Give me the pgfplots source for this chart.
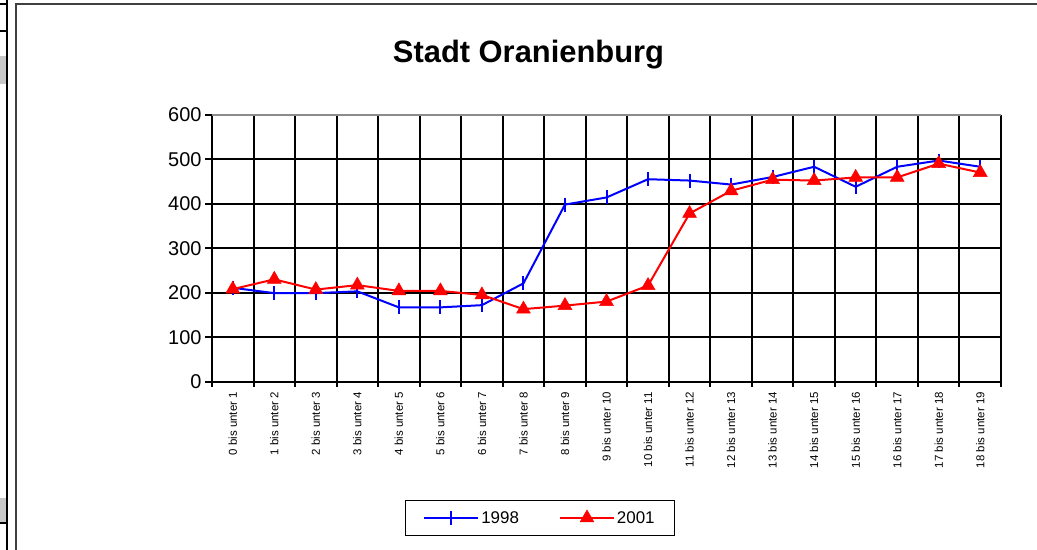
\documentclass[border=0pt]{standalone}
\usepackage{fontspec}
\setmainfont{Liberation Sans}
\usepackage{pgfplots}
\pgfplotsset{compat=1.18}
\begin{document}
\begin{tikzpicture}[x=1bp,y=1bp]
\path[use as bounding box] (0,0) rectangle (1037,550);
% page decorations
\draw[line width=2bp, black!75] (16,0) -- (16,546) -- (1037,546);
\draw[line width=2.5bp] (7,0) -- (7,550);
\draw[line width=2bp] (0,546) -- (7,546);
\draw[line width=2bp] (0,519) -- (7,519);
\fill[black!22] (0,466) rectangle (6,494);
\fill[black!22] (0,27) rectangle (6,52);
\draw[line width=2bp] (0,27) -- (7,27);
\node[anchor=base, font=\fontsize{31}{36}\selectfont\bfseries] at (528.5,487) {Stadt Oranienburg};
\begin{axis}[
  at={(212bp,168.3bp)}, anchor=south west,
  scale only axis, width=789bp, height=267bp,
  xmin=-0.5, xmax=18.5, ymin=0, ymax=600,
  ytick={0,100,200,300,400,500,600},
  xtick={0,1,2,3,4,5,6,7,8,9,10,11,12,13,14,15,16,17,18},
  xticklabels={0 bis unter 1,1 bis unter 2,2 bis unter 3,3 bis unter 4,4 bis unter 5,5 bis unter 6,6 bis unter 7,7 bis unter 8,8 bis unter 9,9 bis unter 10,10 bis unter 11,11 bis unter 12,12 bis unter 13,13 bis unter 14,14 bis unter 15,15 bis unter 16,16 bis unter 17,17 bis unter 18,18 bis unter 19},
  minor xtick={-0.5,0.5,1.5,2.5,3.5,4.5,5.5,6.5,7.5,8.5,9.5,10.5,11.5,12.5,13.5,14.5,15.5,16.5,17.5,18.5},
  major x tick style={draw=none},
  tick align=outside, tick pos=left,
  major tick length=7bp, minor tick length=5bp,
  tick style={black, line width=2bp},
  ymajorgrids, xminorgrids,
  major grid style={black, line width=2bp},
  minor grid style={black, line width=2bp},
  axis line style={draw=none},
  /pgf/number format/assume math mode=true,
  yticklabel style={font=\fontsize{20}{24}\selectfont},
  xticklabel style={font=\fontsize{11.5}{13}\selectfont, rotate=90, anchor=east},
  legend columns=2,
  legend style={at={(axis description cs:0.4157,-0.5105)}, anchor=center,
    draw=black, line width=1.5bp, font=\fontsize{17}{20}\selectfont,
    inner xsep=18bp, inner ysep=9bp,
    /tikz/every even column/.append style={column sep=38bp}},
  legend image code/.code={\draw[mark repeat=2,mark phase=2] plot coordinates {(0bp,0bp) (27bp,0bp) (54bp,0bp)};},
]
\addplot[blue, line width=2bp, mark=|, mark size=7bp, mark options={line width=2bp}] coordinates {
(0,211) (1,199) (2,199) (3,203) (4,167) (5,167) (6,172) (7,221) (8,398) (9,414)
(10,455) (11,452) (12,443) (13,460) (14,483) (15,438) (16,483) (17,497) (18,483)};
\addlegendentry{1998}
\addplot[red, line width=2bp, mark=triangle*, mark size=8bp, mark options={line width=0.5bp}] coordinates {
(0,208) (1,230) (2,207) (3,217) (4,204) (5,204) (6,195) (7,163) (8,171) (9,180)
(10,216) (11,378) (12,429) (13,454) (14,452) (15,459) (16,459) (17,490) (18,470)};
\addlegendentry{2001}
\draw[black, line width=2bp] (rel axis cs:0,1) -- (rel axis cs:0,0) -- (rel axis cs:1,0) -- (rel axis cs:1,1);
\draw[black!45, line width=2bp] (rel axis cs:0,1) -- (rel axis cs:1,1);
\draw[black!40, line width=1.5bp] ([xshift=2bp]rel axis cs:1,1) -- ([xshift=2bp]rel axis cs:1,0);
\end{axis}
\end{tikzpicture}
\end{document}
